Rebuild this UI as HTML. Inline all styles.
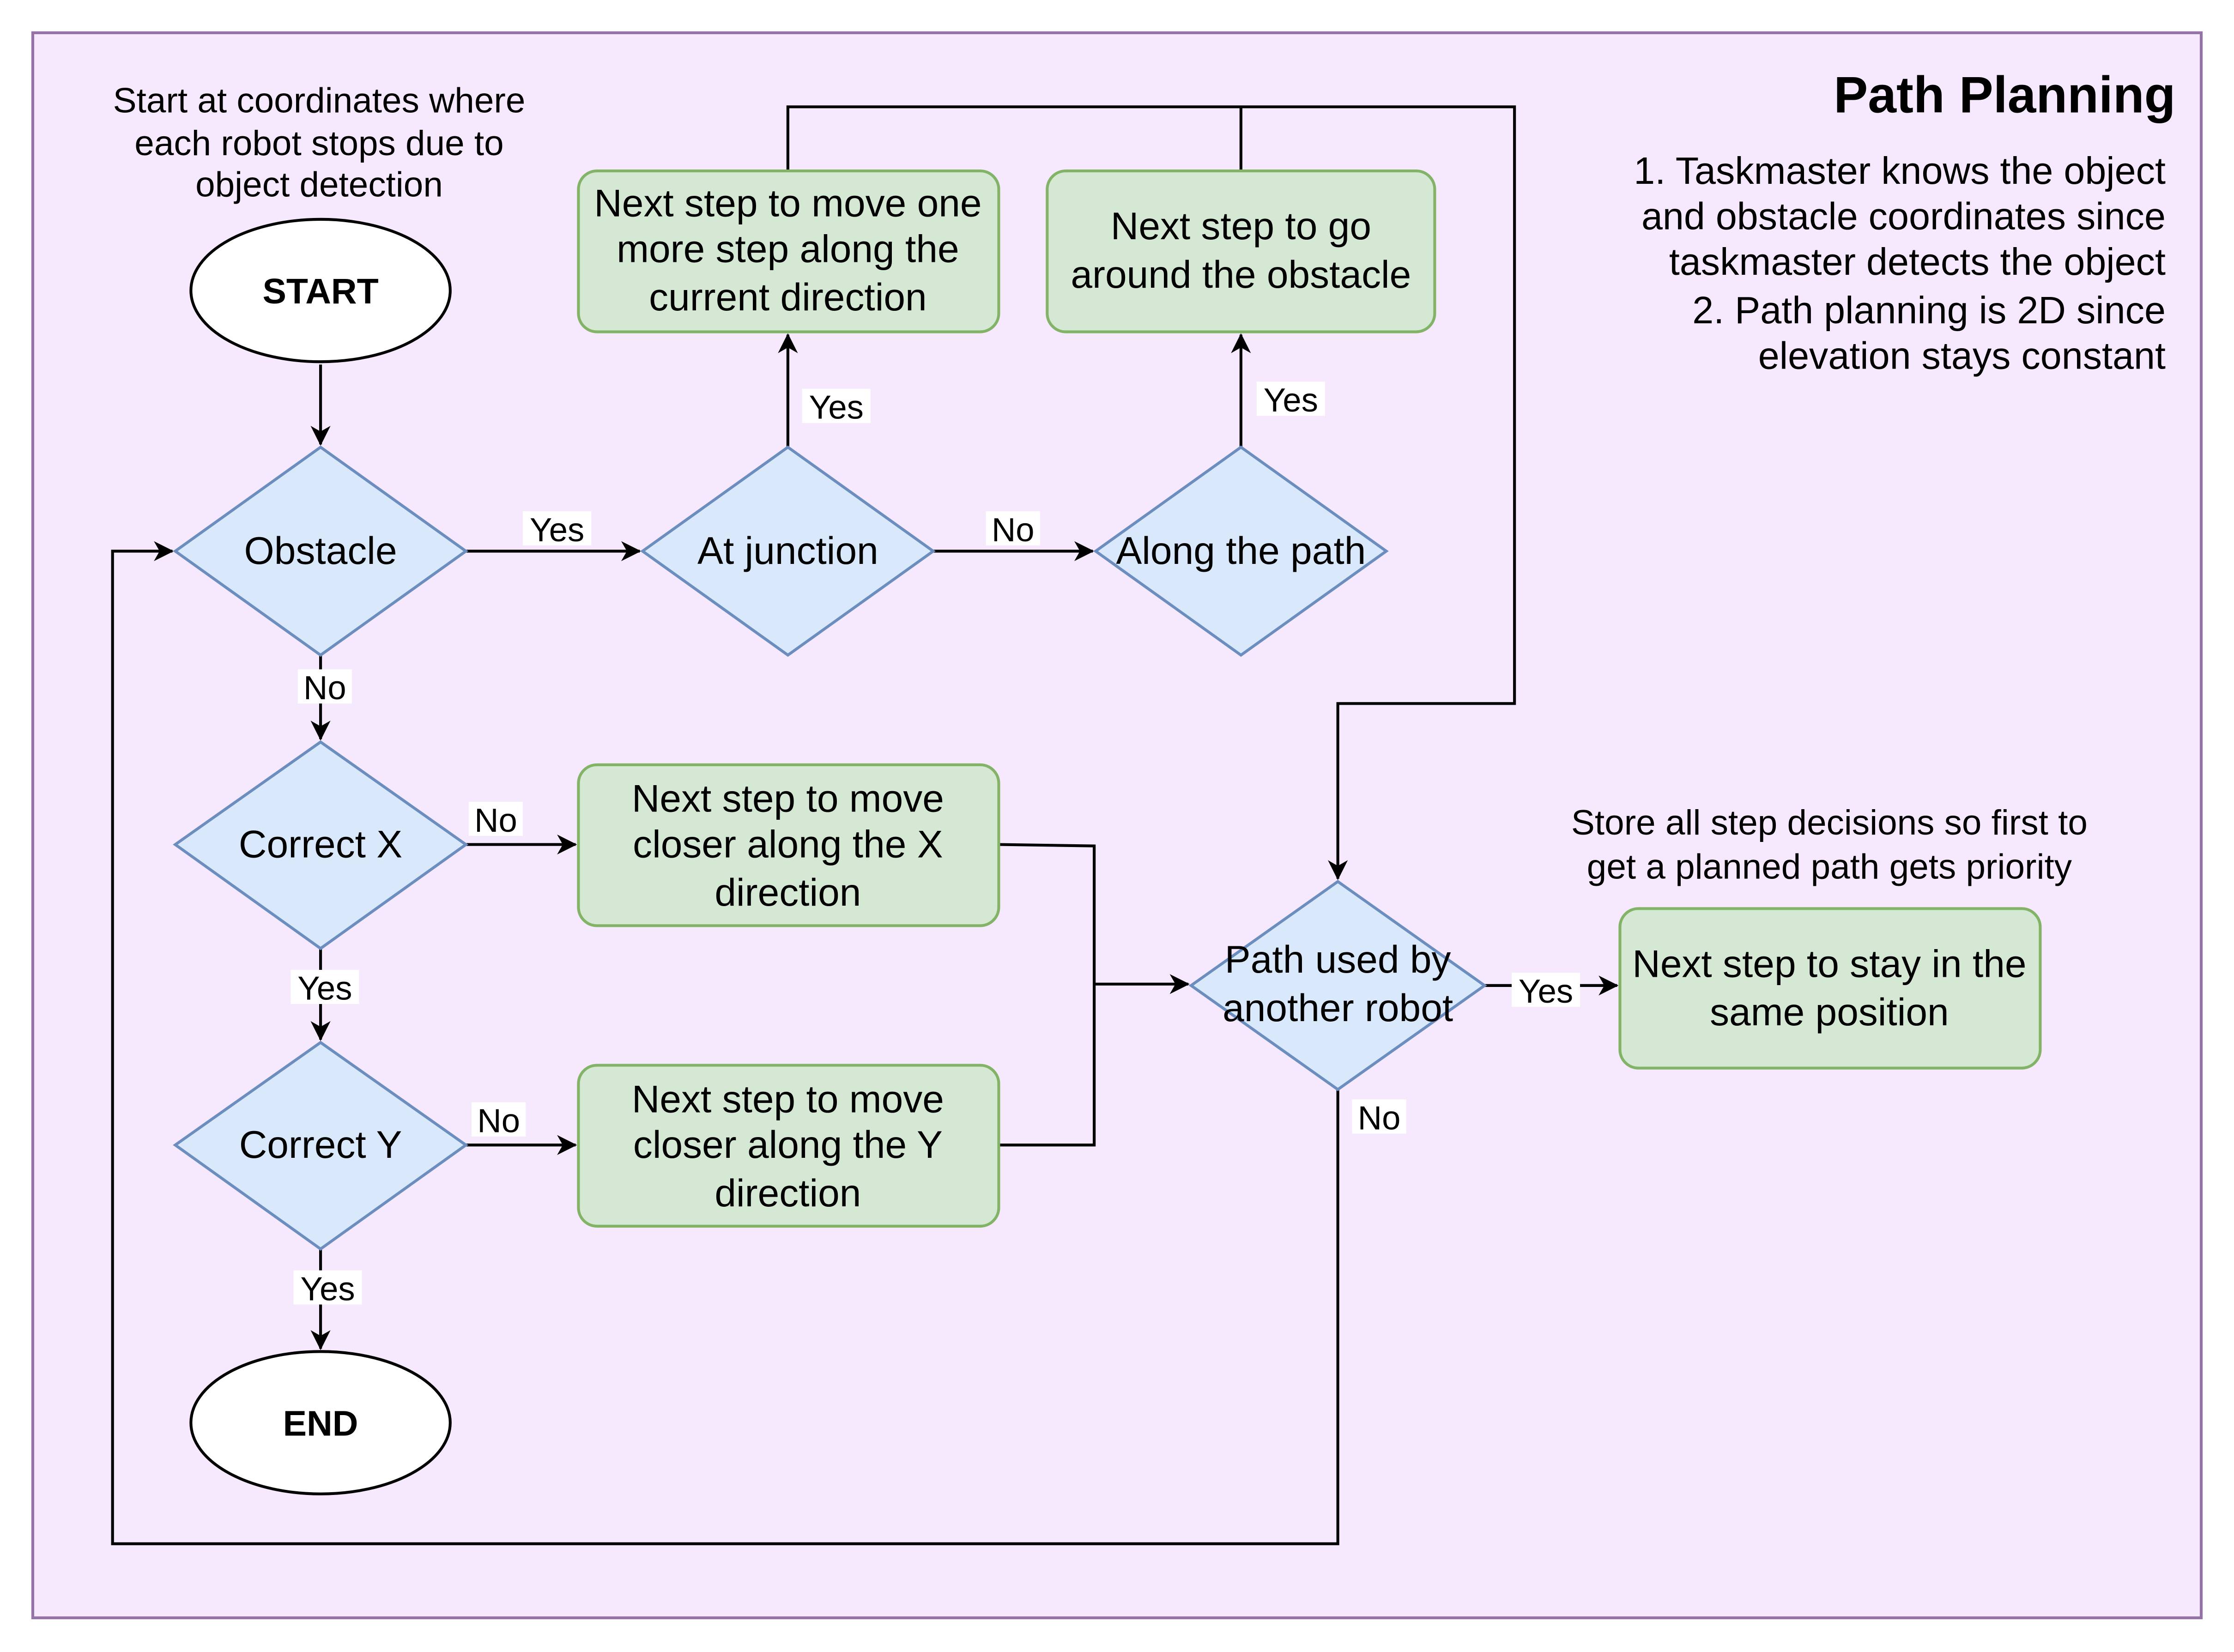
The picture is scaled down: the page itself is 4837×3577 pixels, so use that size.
<!DOCTYPE html>
<html><head><meta charset="utf-8"><style>
html,body{margin:0;padding:0;background:#fff;}
svg{display:block;}
text{font-family:"Liberation Sans",Arial,sans-serif;fill:#000;}
</style></head><body>
<svg width="4837" height="3577" viewBox="0 0 1568 1160" preserveAspectRatio="none" xmlns="http://www.w3.org/2000/svg">
<defs>
<marker id="a" markerWidth="14" markerHeight="14" refX="13" refY="7" orient="auto" markerUnits="userSpaceOnUse">
<path d="M0,0 L14,7 L0,14 L4,7 Z" fill="#000"/>
</marker>
</defs>
<rect x="0" y="0" width="1568" height="1160" fill="#fff"/>
<rect x="23" y="23" width="1522" height="1113" fill="#f6e9fd" stroke="#9673a6" stroke-width="2"/>

<text x="1527" y="79" font-size="36" font-weight="bold" text-anchor="end">Path Planning</text>
<g font-size="26.8" text-anchor="end">
<text x="1520" y="129">1. Taskmaster knows the object</text>
<text x="1520" y="161">and obstacle coordinates since</text>
<text x="1520" y="193">taskmaster detects the object</text>
<text x="1520" y="227">2. Path planning is 2D since</text>
<text x="1520" y="259">elevation stays constant</text>
</g>
<g font-size="24.8" text-anchor="middle">
<text x="224" y="79">Start at coordinates where</text>
<text x="224" y="109">each robot stops due to</text>
<text x="224" y="138">object detection</text>
<text x="1284" y="586">Store all step decisions so first to</text>
<text x="1284" y="617">get a planned path gets priority</text>
</g>

<g stroke="#000" stroke-width="2" fill="none">
<line x1="225" y1="256" x2="225" y2="312" marker-end="url(#a)"/>
<line x1="327" y1="387" x2="449" y2="387" marker-end="url(#a)"/>
<line x1="655" y1="387" x2="767" y2="387" marker-end="url(#a)"/>
<line x1="553" y1="314" x2="553" y2="235" marker-end="url(#a)"/>
<line x1="871" y1="314" x2="871" y2="235" marker-end="url(#a)"/>
<polyline points="553,120 553,75 1063,75 1063,494 939,494 939,617" marker-end="url(#a)"/>
<line x1="871" y1="120" x2="871" y2="75"/>
<line x1="225" y1="460" x2="225" y2="519" marker-end="url(#a)"/>
<line x1="225" y1="666" x2="225" y2="730" marker-end="url(#a)"/>
<line x1="225" y1="877" x2="225" y2="947" marker-end="url(#a)"/>
<line x1="327" y1="593" x2="404" y2="593" marker-end="url(#a)"/>
<line x1="327" y1="804" x2="404" y2="804" marker-end="url(#a)"/>
<polyline points="701,593 768,594 768,804 701,804"/>
<line x1="768" y1="691" x2="834" y2="691" marker-end="url(#a)"/>
<line x1="1042" y1="692" x2="1135" y2="692" marker-end="url(#a)"/>
<polyline points="939,765 939,1084 79,1084 79,387 121,387" marker-end="url(#a)"/>
</g>

<g stroke-width="2">
<ellipse cx="225" cy="204" rx="91" ry="50" fill="#fff" stroke="#000"/>
<ellipse cx="225" cy="999" rx="91" ry="50" fill="#fff" stroke="#000"/>
<g fill="#dae8fc" stroke="#6c8ebf">
<polygon points="123,387 225,314 327,387 225,460"/>
<polygon points="451,387 553,314 655,387 553,460"/>
<polygon points="769,387 871,314 973,387 871,460"/>
<polygon points="123,593 225,521 327,593 225,666"/>
<polygon points="123,804 225,732 327,804 225,877"/>
<polygon points="836,692 939,619 1042,692 939,765"/>
</g>
<g fill="#d5e8d4" stroke="#82b366">
<rect x="406" y="120" width="295" height="113" rx="13"/>
<rect x="735" y="120" width="272" height="113" rx="13"/>
<rect x="406" y="537" width="295" height="113" rx="13"/>
<rect x="406" y="748" width="295" height="113" rx="13"/>
<rect x="1137" y="638" width="295" height="112" rx="13"/>
</g>
</g>

<g font-size="25" text-anchor="middle" font-weight="bold">
<text x="225" y="213">START</text>
<text x="225" y="1008">END</text>
</g>
<g font-size="27.2" text-anchor="middle">
<text x="225" y="396">Obstacle</text>
<text x="553" y="396">At junction</text>
<text x="871" y="396">Along the path</text>
<text x="225" y="602">Correct X</text>
<text x="225" y="813">Correct Y</text>
<text x="939" y="683">Path used by</text>
<text x="939" y="717">another robot</text>
<text x="553" y="152">Next step to move one</text>
<text x="553" y="184">more step along the</text>
<text x="553" y="218">current direction</text>
<text x="871" y="168">Next step to go</text>
<text x="871" y="202">around the obstacle</text>
<text x="553" y="570">Next step to move</text>
<text x="553" y="602">closer along the X</text>
<text x="553" y="636">direction</text>
<text x="553" y="781">Next step to move</text>
<text x="553" y="813">closer along the Y</text>
<text x="553" y="847">direction</text>
<text x="1284" y="686">Next step to stay in the</text>
<text x="1284" y="720">same position</text>
</g>

<g font-size="23.5" text-anchor="middle">
<rect x="367" y="359" width="48" height="24" fill="#fff"/><text x="391" y="380">Yes</text>
<rect x="692" y="359" width="38" height="24" fill="#fff"/><text x="711" y="380">No</text>
<rect x="563" y="273" width="48" height="24" fill="#fff"/><text x="587" y="294">Yes</text>
<rect x="882" y="268" width="48" height="24" fill="#fff"/><text x="906" y="289">Yes</text>
<rect x="209" y="470" width="38" height="24" fill="#fff"/><text x="228" y="491">No</text>
<rect x="204" y="681" width="48" height="24" fill="#fff"/><text x="228" y="702">Yes</text>
<rect x="206" y="892" width="48" height="24" fill="#fff"/><text x="230" y="913">Yes</text>
<rect x="329" y="563" width="38" height="24" fill="#fff"/><text x="348" y="584">No</text>
<rect x="331" y="774" width="38" height="24" fill="#fff"/><text x="350" y="795">No</text>
<rect x="1061" y="683" width="48" height="24" fill="#fff"/><text x="1085" y="704">Yes</text>
<rect x="949" y="772" width="38" height="24" fill="#fff"/><text x="968" y="793">No</text>
</g>
</svg>
</body></html>
